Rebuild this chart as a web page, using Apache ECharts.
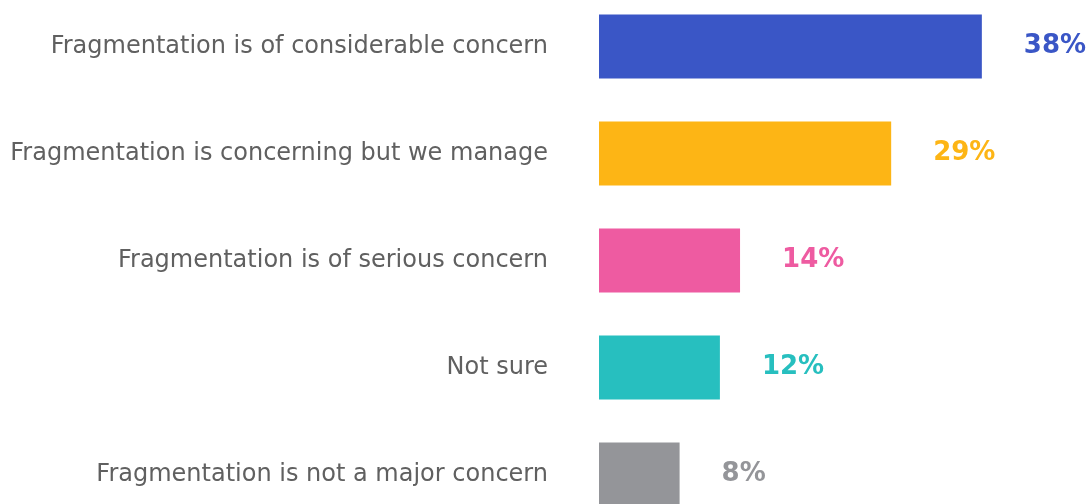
<!DOCTYPE html>
<html>
<head>
    <meta charset="utf-8">
    <title>Fragmentation</title>
    <script src="https://cdn.jsdelivr.net/npm/echarts@6/dist/echarts.min.js"></script>
    <style>
        html, body { margin: 0; padding: 0; background: #fff; overflow: hidden; }
    </style>
</head>
<body>
    <!-- the last bar is cut by the bottom edge in the original, so the chart box runs past the window -->
    <div id="chart" style="width: 1091px;height:535px;margin-top:-7px;"></div>
    <script type="text/javascript">
        var categories = [
            'Fragmentation is of considerable concern',
            'Fragmentation is concerning but we manage',
            'Fragmentation is of serious concern',
            'Not sure',
            'Fragmentation is not a major concern'
        ];
        var values = [38, 29, 14, 12, 8];
        var colors = ['#3a56c6', '#fdb515', '#ee5ba1', '#27bfbf', '#949599'];

        var myChart = echarts.init(document.getElementById('chart'));
        var option = {
            animation: false,
            grid: { left: 599, width: 403, top: 0, bottom: 0 },
            xAxis: {
                type: 'value', min: 0, max: 40,
                show: false
            },
            yAxis: {
                type: 'category',
                inverse: true,
                data: categories,
                axisLine: { show: false },
                axisTick: { show: false },
                axisLabel: {
                    margin: 51,
                    color: '#606060',
                    fontSize: 24,
                    fontFamily: 'DejaVu Sans'
                }
            },
            series: [{
                type: 'bar',
                barWidth: 64,
                data: values.map(function (v, i) {
                    return {
                        value: v,
                        itemStyle: { color: colors[i] },
                        label: { color: colors[i] }
                    };
                }),
                label: {
                    show: true,
                    position: 'right',
                    distance: 42,
                    formatter: '{c}%',
                    fontSize: 26,
                    fontWeight: 'bold',
                    fontFamily: 'DejaVu Sans'
                }
            }]
        };
        myChart.setOption(option);
    </script>
</body>
</html>
